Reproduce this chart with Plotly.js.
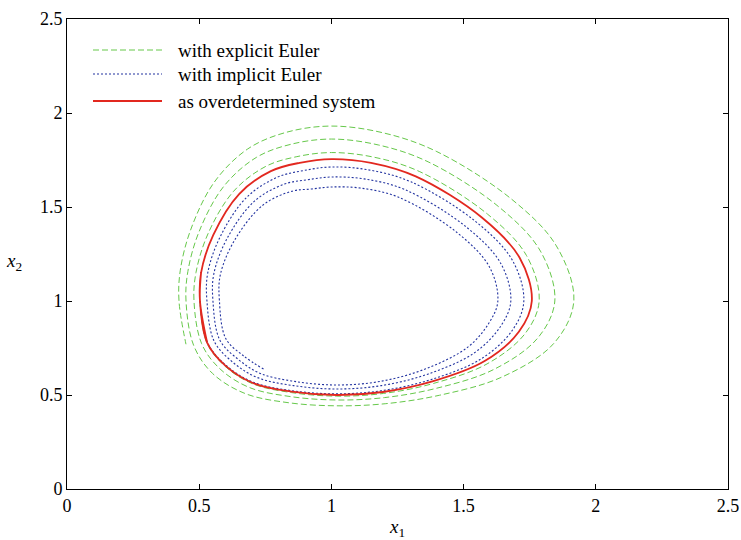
<!DOCTYPE html>
<html>
<head>
<meta charset="utf-8">
<script src="https://cdn.plot.ly/plotly-3.0.1.min.js"></script>
<style>
  html, body { margin: 0; padding: 0; background: #fff; }
  #chart { width: 741px; height: 540px; }
</style>
</head>
<body>
<div id="chart"></div>
<script>
// ---- Data ----
var seriesNames = ["with explicit Euler", "with implicit Euler", "as overdetermined system"];

// explicit Euler: spirals outward (about three turns)
var explicitX = [0.503,0.5287,0.5976,0.7010,0.8490,1.0201,1.1964,1.3860,1.5887,1.7319,1.7858,1.7379,1.5904,1.3342,1.1594,1.0,0.8694,0.7522,0.6297,0.5329,0.4880,
  0.4803,0.5093,0.5790,0.6898,0.8450,1.0205,1.2002,1.3958,1.6130,1.7803,1.845,1.7905,1.6344,1.3659,1.1791,1.0,0.8481,0.7168,0.5918,0.4991,0.4571,
  0.4501,0.4791,0.5499,0.6726,0.8388,1.0211,1.2058,1.4095,1.6446,1.8414,1.9169,1.8509,1.6826,1.3990,1.1988,1.0,0.8280,0.6837,0.5565,0.4674,0.4282,
  0.4236,0.450];
var explicitY = [1.0,0.7786,0.6531,0.5602,0.5128,0.4940,0.5082,0.5615,0.6655,0.8254,1.0,1.2417,1.4622,1.6880,1.7654,1.7896,1.7678,1.7164,1.5830,1.3564,1.1526,
  1.0,0.7727,0.6384,0.5399,0.4916,0.4734,0.4861,0.5352,0.6350,0.8030,1.0,1.2655,1.4994,1.7402,1.8295,1.8614,1.8340,1.7643,1.6079,1.3673,1.1567,
  1.0,0.7636,0.6154,0.5084,0.4588,0.4425,0.4539,0.4989,0.5953,0.7748,1.0,1.2929,1.5403,1.7945,1.8935,1.9305,1.8967,1.8090,1.6311,1.3775,1.1606,
  1.0,0.770];

// implicit Euler: spirals inward (about three turns)
var implicitX = [0.503,0.5312,0.6022,0.7049,0.8509,1.02,1.1937,1.3780,1.5670,1.6857,1.7278,1.6841,1.5449,1.3011,1.1386,1.0,0.8934,0.7953,0.6790,0.5793,0.5320,
  0.5293,0.5562,0.6261,0.7190,0.8561,1.02,1.1891,1.3669,1.5414,1.6410,1.6786,1.6413,1.5099,1.2765,1.1237,1.0,0.9091,0.8222,0.7089,0.6057,0.5552,
  0.552,0.5776,0.6460,0.7308,0.8603,1.02,1.1852,1.3567,1.5169,1.5980,1.6295,1.5988,1.4750,1.2521,1.1087,1.0,0.9248,0.8503,0.7408,0.6341,0.5800,
  0.5765,0.6004,0.6675,0.7433];
var implicitY = [1.0,0.7794,0.6568,0.5675,0.5229,0.506,0.5237,0.5826,0.6928,0.8468,1.0,1.2174,1.4235,1.6337,1.6980,1.7128,1.6935,1.6582,1.5506,1.3416,1.1467,
  1.0,0.7870,0.6756,0.5933,0.5500,0.5319,0.5499,0.6122,0.7250,0.8675,1.0,1.1980,1.3939,1.5932,1.6494,1.6596,1.6448,1.6218,1.5310,1.3331,1.1435,
  1.0,0.7934,0.6914,0.6148,0.5723,0.5532,0.5725,0.6393,0.7557,0.8874,1.0,1.1787,1.3643,1.5530,1.6009,1.6064,1.5959,1.5838,1.5100,1.3240,1.1402,
  1.0,0.8004,0.7083,0.6378];

// overdetermined system: closed orbit
var overX = [0.507,0.503,0.530,0.60,0.703,0.85,1.02,1.195,1.382,1.578,1.709,1.758,1.712,1.569,1.319,1.15,1.0,0.88,0.771,0.651,0.553,0.507,0.503,0.530];
var overY = [1.15,1.0,0.779,0.655,0.564,0.518,0.500,0.516,0.572,0.679,0.836,1.0,1.230,1.444,1.663,1.735,1.755,1.735,1.691,1.569,1.35,1.15,1.0,0.779];

var tickVals = [0, 0.5, 1, 1.5, 2, 2.5];
var tickText = ["0", "0.5", "1", "1.5", "2", "2.5"];

// ---- Styles ----
var FONT = "Liberation Serif, serif";
var GREEN = "#66c84a";
var BLUE = "#2233a0";
var RED = "#e2281f";
var GREEN_DASH = "6px,3px";
var BLUE_DASH = "2px,2px";

var traces = [
  { x: explicitX, y: explicitY, name: seriesNames[0], mode: "lines", showlegend: false,
    line: { color: GREEN, width: 1, dash: GREEN_DASH, shape: "spline", smoothing: 1 } },
  { x: implicitX, y: implicitY, name: seriesNames[1], mode: "lines", showlegend: false,
    line: { color: BLUE, width: 1.1, dash: BLUE_DASH, shape: "spline", smoothing: 1 } },
  { x: overX, y: overY, name: seriesNames[2], mode: "lines", showlegend: false,
    line: { color: RED, width: 1.8, shape: "spline", smoothing: 1 } }
];

var axisCommon = {
  range: [0, 2.5], tickmode: "array", tickvals: tickVals, ticktext: tickText,
  ticks: "inside", ticklen: 5, tickwidth: 1, tickcolor: "#000",
  showline: true, linecolor: "#000", linewidth: 1, mirror: "ticks",
  showgrid: false, zeroline: false, fixedrange: true,
  tickfont: { family: FONT, size: 18, color: "#000" }
};

var legendRows = [50, 74, 101]; // pixel rows in the reference
var plotTop = 19, plotH = 470, plotL = 67, plotW = 661;
function py(p) { return (plotTop + plotH - p) / plotH; }
function px(p) { return (p - plotL) / plotW; }
var sampleColors = [GREEN, BLUE, RED];
var sampleDash = [GREEN_DASH, BLUE_DASH, "solid"];
var sampleWidth = [1, 1.1, 1.8];
var shapes = [], annotations = [];
for (var i = 0; i < 3; i++) {
  shapes.push({ type: "line", xref: "paper", yref: "paper",
    x0: px(93), x1: px(162), y0: py(legendRows[i]), y1: py(legendRows[i]),
    line: { color: sampleColors[i], width: sampleWidth[i], dash: sampleDash[i] } });
  annotations.push({ xref: "paper", yref: "paper", x: px(176), y: py(legendRows[i]),
    xanchor: "left", yanchor: "middle", showarrow: false, text: seriesNames[i],
    font: { family: FONT, size: 19, color: "#000" } });
}
annotations.push({ xref: "paper", yref: "paper", x: px(14), y: py(262),
  xanchor: "center", yanchor: "middle", showarrow: false,
  text: "<i>x</i><sub>2</sub>", font: { family: FONT, size: 19, color: "#000" } });

var layout = {
  width: 741, height: 540,
  margin: { l: 67, r: 13, t: 19, b: 51 },
  paper_bgcolor: "#fff", plot_bgcolor: "#fff",
  font: { family: FONT, color: "#000" },
  showlegend: false,
  xaxis: Object.assign({}, axisCommon, {
    title: { text: "<i>x</i><sub>1</sub>", font: { family: FONT, size: 19, color: "#000" }, standoff: 8 }
  }),
  yaxis: Object.assign({}, axisCommon, {}),
  shapes: shapes,
  annotations: annotations
};

Plotly.newPlot("chart", traces, layout, { staticPlot: true, displayModeBar: false });
</script>
</body>
</html>
